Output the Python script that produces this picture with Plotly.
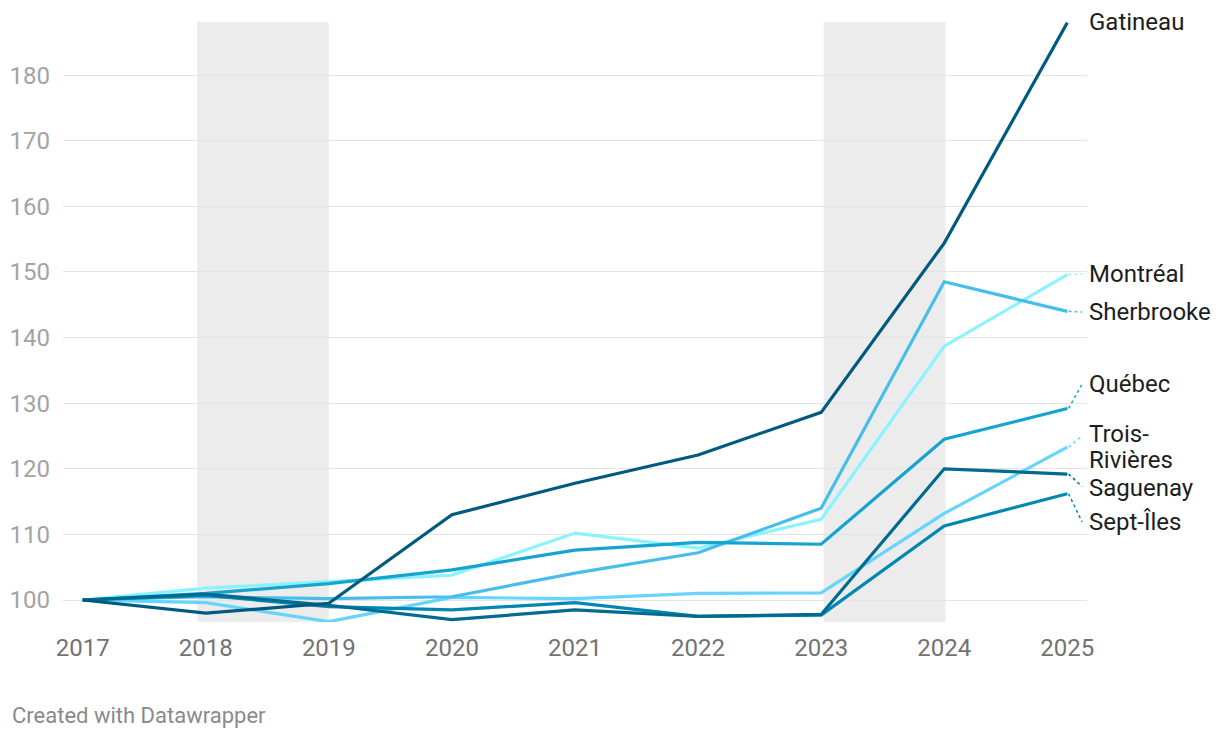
import plotly.graph_objects as go

years = [2017, 2018, 2019, 2020, 2021, 2022, 2023, 2024, 2025]

gatineau = [100, 98.0, 99.5, 113.0, 117.8, 122.1, 128.6, 154.4, 188.0]
montreal = [100, 101.8, 102.8, 103.8, 110.2, 107.9, 112.3, 138.7, 149.6]
sherbrooke = [100, 100.5, 100.2, 100.5, 104.1, 107.2, 114.0, 148.5, 144.0]
quebec = [100, 101.0, 102.5, 104.6, 107.6, 108.8, 108.5, 124.5, 129.2]
trois_rivieres = [100, 99.6, 96.7, 100.4, 100.2, 101.0, 101.1, 113.2, 123.3]
saguenay = [100, 100.9, 99.2, 97.0, 98.5, 97.5, 97.8, 120.0, 119.2]
sept_iles = [100, 100.7, 99.0, 98.5, 99.6, 97.5, 97.7, 111.3, 116.2]

names = ["Gatineau", "Montréal", "Sherbrooke", "Québec", "Trois-Rivières", "Saguenay", "Sept-Îles"]
label_lines = [["Gatineau"], ["Montréal"], ["Sherbrooke"], ["Québec"],
               ["Trois-", "Rivières"], ["Saguenay"], ["Sept-Îles"]]
series = [gatineau, montreal, sherbrooke, quebec, trois_rivieres, saguenay, sept_iles]
colors = ["#005a7f", "#8af3ff", "#47bde9", "#17a3d0", "#66d4fb", "#006b90", "#0088b1"]
label_y = [188.1, 149.7, 143.9, 132.9, 125.3, 117.0, 111.9]   # first text line
connector_y = [188.0, 149.7, 143.9, 132.9, 125.0, 117.3, 111.9]
line_step = 4.0

shade_periods = [(2017.93, 2019.0), (2023.02, 2024.01)]

y_ticks = [100, 110, 120, 130, 140, 150, 160, 170, 180]

fig = go.Figure()

for x0, x1 in shade_periods:
    fig.add_shape(type="rect", xref="x", yref="paper", x0=x0, x1=x1, y0=0, y1=1,
                  fillcolor="#ececec", line_width=0, layer="below")

# draw order: light lines below dark
order = [1, 4, 2, 3, 6, 5, 0]
for i in order:
    fig.add_trace(go.Scatter(x=years, y=series[i], mode="lines",
                             line=dict(color=colors[i], width=3.2),
                             name=names[i], showlegend=False, cliponaxis=False,
                             hoverinfo="skip"))

for i in range(len(names)):
    end = series[i][-1]
    if i != 0:
        fig.add_trace(go.Scatter(x=[years[-1] + 0.01, years[-1] + 0.12], y=[end, connector_y[i]],
                                 mode="lines", line=dict(color=colors[i], width=1.5, dash="dot"),
                                 showlegend=False, cliponaxis=False, hoverinfo="skip"))
    for k, txt in enumerate(label_lines[i]):
        fig.add_annotation(x=years[-1] + 0.16, y=label_y[i] - k * line_step, xref="x", yref="y",
                           text=txt, showarrow=False, xanchor="left", yanchor="middle",
                           align="left",
                           font=dict(family="Roboto", size=24, color="#1d1d1d"))

PLOT_W, PLOT_H = 1024, 600
fig.add_annotation(x=-53 / PLOT_W, y=-(707 - 614) / PLOT_H, xref="paper", yref="paper",
                   text="Created with Datawrapper", showarrow=False,
                   xanchor="left", yanchor="middle",
                   font=dict(family="Roboto", size=22, color="#8a8a8a"))

fig.update_layout(
    width=1220, height=738,
    margin=dict(l=55, r=141, t=14, b=124, autoexpand=False),
    plot_bgcolor="white", paper_bgcolor="white",
    font=dict(family="Roboto"),
    xaxis=dict(range=[2016.84, 2025.16], tickvals=years, showgrid=False, zeroline=False,
               showline=False, ticks="", tickfont=dict(size=24, color="#727272"),
               ticklabelstandoff=9, automargin=False),
    yaxis=dict(range=[96.65, 188.1], tickvals=y_ticks, showgrid=True, gridcolor="#e4e4e4",
               gridwidth=1, zeroline=False, showline=False, ticks="",
               tickfont=dict(size=24, color="#a3a3a3"), ticklabelstandoff=12,
               automargin=False),
)

fig.write_html("out.html")
